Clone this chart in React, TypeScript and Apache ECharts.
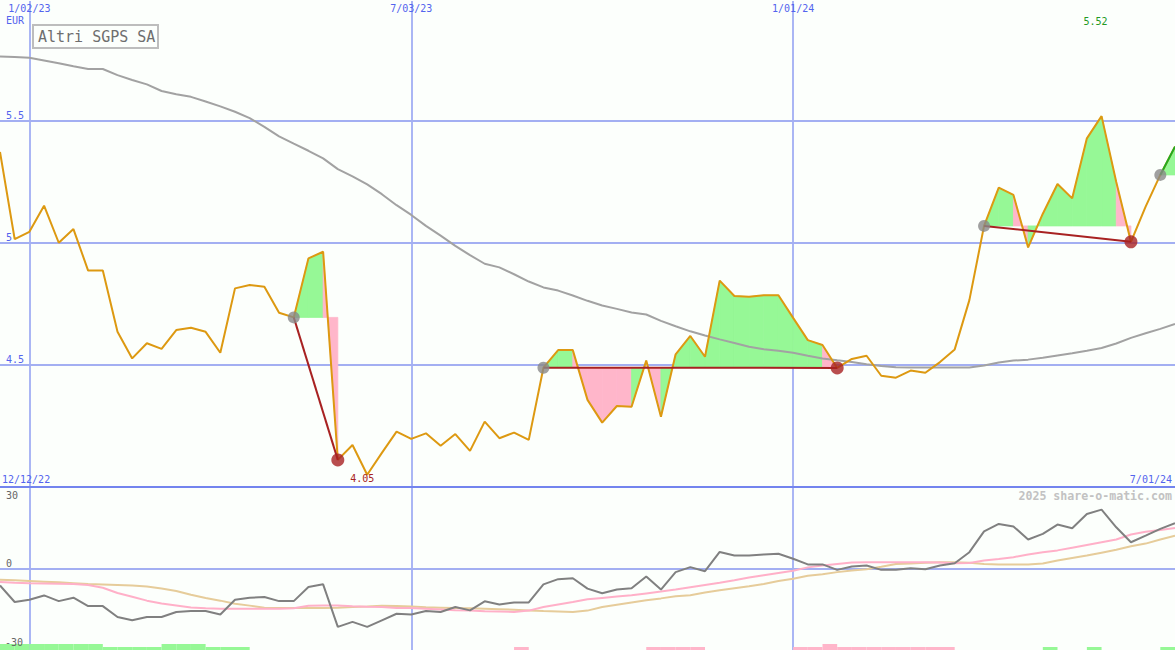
import React, { useEffect, useRef } from 'react';
import * as echarts from 'echarts';

// ---------- data ----------
const TITLE = 'Altri SGPS SA';
const CURRENCY = 'EUR';
const WATERMARK = '2025 share-o-matic.com';
const RANGE_START = '12/12/22';
const RANGE_END = '7/01/24';
const DATE_GRID = ['1/02/23', '7/03/23', '1/01/24'];
const PRICE_TICKS = [4.5, 5, 5.5];
const OSC_TICKS = [30, 0];
const OSC_LOW_TICK = '-30';

// weekly closes (EUR)
const price = [
  5.373, 5.016, 5.046, 5.153, 5.001, 5.057, 4.887, 4.887, 4.636, 4.527,
  4.589, 4.566, 4.643, 4.653, 4.636, 4.550, 4.814, 4.828, 4.821, 4.714,
  4.695, 4.937, 4.964, 4.111, 4.172, 4.050, 4.140, 4.227, 4.197, 4.220,
  4.169, 4.217, 4.148, 4.268, 4.200, 4.223, 4.193, 4.489, 4.561, 4.561,
  4.357, 4.264, 4.332, 4.329, 4.518, 4.288, 4.544, 4.619, 4.534, 4.846,
  4.783, 4.780, 4.786, 4.786, 4.693, 4.602, 4.582, 4.488, 4.525, 4.538,
  4.456, 4.448, 4.477, 4.468, 4.512, 4.564, 4.766, 5.070, 5.227, 5.197,
  4.982, 5.120, 5.242, 5.183, 5.429, 5.520, 5.250, 5.005, 5.149, 5.279,
  5.395,
];

// long moving average
const movingAvg = [
  5.764, 5.762, 5.759, 5.748, 5.737, 5.724, 5.713, 5.713, 5.688, 5.668,
  5.650, 5.623, 5.610, 5.599, 5.580, 5.560, 5.538, 5.512, 5.476, 5.437,
  5.407, 5.378, 5.347, 5.303, 5.273, 5.240, 5.200, 5.155, 5.115, 5.070,
  5.030, 4.988, 4.950, 4.915, 4.900, 4.872, 4.842, 4.818, 4.805, 4.785,
  4.763, 4.744, 4.730, 4.715, 4.707, 4.681, 4.659, 4.638, 4.621, 4.605,
  4.590, 4.575, 4.565, 4.558, 4.550, 4.538, 4.527, 4.519, 4.512, 4.503,
  4.496, 4.491, 4.490, 4.490, 4.490, 4.490, 4.490, 4.498, 4.510, 4.518,
  4.522, 4.530, 4.539, 4.548, 4.558, 4.570, 4.588, 4.611, 4.630, 4.648,
  4.668,
];

// oscillator panel
const momentum = [
  -7.5, -14.8, -13.8, -11.9, -14.4, -12.9, -16.6, -16.6, -21.4, -22.9,
  -21.4, -21.4, -19.2, -18.8, -18.8, -20.3, -13.8, -12.9, -12.6, -14.4,
  -14.4, -8.2, -7.0, -25.8, -23.6, -25.8, -22.9, -20.0, -20.3, -18.8,
  -19.2, -17.0, -18.5, -14.5, -15.9, -15.0, -15.0, -7.0, -4.7, -4.3,
  -8.9, -10.9, -9.3, -8.7, -3.5, -9.3, -1.6, 0.6, -1.2, 7.3,
  5.7, 5.7, 6.2, 6.5, 4.3, 1.8, 1.8, -0.6, 0.9, 1.3,
  -0.6, -0.6, 0.1, -0.3, 1.3, 2.3, 7.2, 16.4, 19.7, 18.6,
  12.8, 15.3, 19.4, 17.8, 24.1, 26.0, 18.2, 11.6, 14.5, 17.5,
  20.0,
];
const momentumFast = [
  -6.0, -6.3, -6.5, -6.6, -6.7, -6.9, -7.3, -8.5, -10.8, -12.5,
  -14.2, -15.5, -16.3, -17.2, -17.6, -17.8, -17.8, -17.8, -17.8, -17.8,
  -17.6, -16.5, -16.3, -16.3, -16.7, -16.9, -17.0, -17.4, -17.5, -17.8,
  -18.1, -18.4, -18.6, -18.9, -19.0, -19.2, -18.6, -17.0, -15.9, -14.8,
  -13.6, -13.0, -12.4, -11.8, -11.0, -10.2, -9.3, -8.3, -7.3, -6.3,
  -5.2, -4.0, -3.0, -2.0, -1.0, 0.5, 1.3, 2.0, 2.6, 2.8,
  2.8, 2.8, 2.8, 2.8, 2.6, 2.3, 2.4, 3.5, 4.2, 5.0,
  6.2, 7.2, 8.0, 9.2, 10.4, 11.6, 12.8, 15.0, 16.2, 17.0,
  17.9,
];
const momentumSlow = [
  -5.0, -5.2, -5.5, -5.8, -6.1, -6.5, -6.9, -7.1, -7.3, -7.5,
  -8.0, -8.8, -9.9, -11.6, -13.0, -14.2, -15.6, -16.4, -17.3, -17.5,
  -17.5, -17.5, -17.5, -17.3, -17.0, -16.8, -16.5, -16.6, -16.8, -17.1,
  -17.3, -17.5, -17.6, -17.8, -18.0, -18.2, -18.5, -18.8, -19.0, -19.2,
  -18.6, -17.0, -16.0, -15.0, -14.0, -13.2, -12.3, -11.8, -10.6, -9.6,
  -8.7, -7.8, -6.8, -5.5, -4.5, -3.2, -2.5, -1.6, -0.9, -0.3,
  0.8, 2.0, 2.2, 2.5, 2.8, 2.8, 2.5, 2.0, 1.8, 1.8,
  1.8, 2.2, 3.5, 4.6, 5.7, 7.0, 8.3, 9.8, 11.0, 12.8,
  14.5,
];

// trend segments (week indices)
const trendStart = [20, 37, 67, 79];
const trendEnd = [23, 57, 77, 80];

// weekly signal strip: + buy strength, - sell strength
const signal = [
  2, 2, 2, 2, 2, 2, 2, 1, 1, 1,
  1, 2, 2, 2, 1, 1, 1, 0, 0, 0,
  0, 0, 0, 0, 0, 0, 0, 0, 0, 0,
  0, 0, 0, 0, 0, -1, 0, 0, 0, 0,
  0, 0, 0, 0, -1, -1, -1, -1, 0, 0,
  0, 0, 0, 0, -1, -1, -2, -1, -1, -1,
  -1, -1, -1, -1, -1, 0, 0, 0, 0, 0,
  0, 1, 0, 0, 1, 0, 0, 0, 0, 1,
];

// week labels (Mondays)
const weekLabels = price.map((_, i) => {
  const d = new Date(Date.UTC(2022, 11, 19 + 7 * i));
  return `${d.getUTCMonth() + 1}/${String(d.getUTCDate()).padStart(2, '0')}/${String(d.getUTCFullYear()).slice(2)}`;
});

// ---------- styles ----------
const BG = '#fcfffc';
const GRID_BLUE = '#a3aff2';
const VGRID_BLUE = '#8f9ef2';
const AXIS_BLUE = '#7384ee';
const LABEL_BLUE = '#5364ee';
const GREEN_FILL = '#96f896';
const PINK_FILL = '#ffb6ca';
const MONO = '"DejaVu Sans Mono", monospace';

export default function App() {
  const ref = useRef<HTMLDivElement>(null);

  useEffect(() => {
    if (!ref.current) return;
    const chart = echarts.init(ref.current, undefined, { renderer: 'svg' });
    const last = price.length - 1;

    const fillData: number[][] = [];
    trendStart.forEach((s, r) => {
      const e = trendEnd[r];
      const lvl = price[s];
      for (let i = s; i < e; i++) fillData.push([i, price[i], price[i + 1], lvl]);
    });

    const trendSeries = trendStart.map((s, r) => {
      const e = trendEnd[r];
      const up = price[e] > price[s];
      return {
        type: 'line',
        xAxisIndex: 0,
        yAxisIndex: 0,
        data: [[s, price[s]], [e, price[e]]],
        symbol: 'none',
        z: 6,
        silent: true,
        lineStyle: { color: up ? '#22aa22' : '#a82222', width: 2 },
      };
    });

    const startDots = trendStart.map((s) => [s, price[s]]);
    const endDots = trendEnd.filter((e) => e < last).map((e) => [e, price[e]]);

    const minV = Math.min(...price);
    const maxV = Math.max(...price);
    const minIdx = price.indexOf(minV);
    const maxIdx = price.indexOf(maxV);

    const gridFn = (_i: number, v: string) => DATE_GRID.includes(v);

    const option: any = {
      animation: false,
      backgroundColor: BG,
      grid: [
        { left: 0, right: 0, top: -1, height: 488, outerBoundsMode: 'none' },
        { left: 0, right: 0, top: 487, height: 163, outerBoundsMode: 'none' },
        { left: 0, right: 0, top: 644, height: 6, outerBoundsMode: 'none' },
      ],
      xAxis: [
        {
          type: 'value', gridIndex: 0, min: 0, max: last,
          axisLine: { show: true, onZero: false, lineStyle: { color: AXIS_BLUE, width: 2 } },
          axisTick: { show: false }, axisLabel: { show: false }, splitLine: { show: false }, z: 10,
        },
        {
          type: 'category', gridIndex: 0, position: 'top', data: weekLabels, boundaryGap: false,
          axisLine: { show: false }, axisTick: { show: false },
          axisLabel: { inside: true, interval: gridFn, color: LABEL_BLUE, fontSize: 10, fontFamily: MONO, margin: 4 },
          splitLine: { show: true, interval: gridFn, lineStyle: { color: VGRID_BLUE, width: 1.5 } },
        },
        {
          type: 'value', gridIndex: 1, min: 0, max: last,
          axisLine: { show: true, onZero: true, lineStyle: { color: GRID_BLUE, width: 2 } },
          axisTick: { show: false }, axisLabel: { show: false }, splitLine: { show: false },
        },
        {
          type: 'category', gridIndex: 1, data: weekLabels, boundaryGap: false,
          axisLine: { show: false }, axisTick: { show: false }, axisLabel: { show: false },
          splitLine: { show: true, interval: gridFn, lineStyle: { color: VGRID_BLUE, width: 1.5 } },
        },
        {
          type: 'category', gridIndex: 2, data: signal.map((_, i) => weekLabels[i]), boundaryGap: true,
          axisLine: { show: false }, axisTick: { show: false }, axisLabel: { show: false }, splitLine: { show: false },
        },
      ],
      yAxis: [
        {
          type: 'value', gridIndex: 0, min: 4, max: 6, interval: 0.5,
          axisLine: { show: false }, axisTick: { show: false },
          axisLabel: {
            inside: true, margin: 6, verticalAlign: 'bottom', color: LABEL_BLUE, fontSize: 10, fontFamily: MONO,
            padding: [0, 0, 1, 0],
            formatter: (v: number) => (PRICE_TICKS.includes(v) ? String(v) : ''),
          },
          splitLine: { show: false },
        },
        {
          type: 'value', gridIndex: 1, min: -36, max: 36, interval: 6,
          axisLine: { show: false }, axisTick: { show: false },
          axisLabel: {
            inside: true, margin: 6, verticalAlign: 'bottom', color: '#666666', fontSize: 10, fontFamily: MONO,
            formatter: (v: number) => (OSC_TICKS.includes(v) ? String(v) : ''),
          },
          splitLine: { show: false },
        },
        {
          type: 'value', gridIndex: 2, min: 0, max: 2,
          axisLine: { show: false }, axisTick: { show: false }, axisLabel: { show: false }, splitLine: { show: false },
        },
      ],
      graphic: [
        {
          type: 'rect', shape: { x: 0, y: 0, width: 1175, height: 1 },
          style: { fill: BG }, z: 50, silent: true,
        },
        {
          type: 'rect', shape: { x: 33, y: 25, width: 125, height: 23 },
          style: { fill: BG, stroke: '#bdbdbd', lineWidth: 2 }, z: 20,
        },
        {
          type: 'text', x: 38, y: 37, z: 21,
          style: { text: TITLE, fill: '#6e6e6e', font: `15px ${MONO}`, verticalAlign: 'middle' },
        },
        {
          type: 'text', x: 6, y: 20, z: 21,
          style: { text: CURRENCY, fill: LABEL_BLUE, font: `10px ${MONO}`, verticalAlign: 'middle' },
        },
        {
          type: 'text', x: 2, y: 479, z: 21,
          style: { text: RANGE_START, fill: LABEL_BLUE, font: `10px ${MONO}`, verticalAlign: 'middle' },
        },
        {
          type: 'text', x: 1172, y: 479, z: 21,
          style: { text: RANGE_END, fill: LABEL_BLUE, font: `10px ${MONO}`, verticalAlign: 'middle', align: 'right' },
        },
        {
          type: 'text', x: 1172, y: 496, z: 21,
          style: { text: WATERMARK, fill: '#c2c2c2', font: `bold 11.6px ${MONO}`, verticalAlign: 'middle', align: 'right' },
        },
        {
          type: 'text', x: 5, y: 642, z: 21,
          style: { text: OSC_LOW_TICK, fill: '#666666', font: `10px ${MONO}`, verticalAlign: 'middle' },
        },
      ],
      series: [
        {
          type: 'custom', xAxisIndex: 0, yAxisIndex: 0, z: 2, silent: true,
          data: fillData,
          encode: { x: 0, y: [1, 2, 3] },
          renderItem: (_p: any, api: any) => {
            const i = api.value(0);
            const a = api.value(1);
            const b = api.value(2);
            const lvl = api.value(3);
            const pts = [api.coord([i, a]), api.coord([i + 1, b]), api.coord([i + 1, lvl]), api.coord([i, lvl])];
            const col = b > lvl ? GREEN_FILL : PINK_FILL;
            return {
              type: 'polygon',
              shape: { points: pts },
              style: { fill: col, stroke: col, lineWidth: 0.8 },
            };
          },
        },
        {
          type: 'line', xAxisIndex: 0, yAxisIndex: 0, z: 3, silent: true, symbol: 'none',
          data: movingAvg.map((v, i) => [i, v]),
          lineStyle: { color: '#a2a2a2', width: 2 },
          markLine: {
            silent: true, symbol: 'none', label: { show: false }, z: 1,
            lineStyle: { color: GRID_BLUE, width: 2, type: 'solid' },
            data: PRICE_TICKS.map((t) => ({ yAxis: t })),
          },
        },
        {
          type: 'line', xAxisIndex: 0, yAxisIndex: 0, z: 4, silent: true, symbol: 'none',
          data: price.map((v, i) => [i, v]),
          lineStyle: { color: '#dd9911', width: 2 },
          markPoint: {
            symbol: 'circle', symbolSize: 0, silent: true,
            label: { show: true, position: 'inside', fontSize: 10, fontFamily: MONO, formatter: '{c}' },
            data: [
              { coord: [minIdx, minV], value: minV.toFixed(2), label: { color: '#a82222', offset: [-5, 4] } },
              { coord: [maxIdx, maxV], value: maxV.toFixed(2), label: { color: '#229922', offset: [-6, -95] } },
            ],
          },
        },
        ...trendSeries,
        {
          type: 'scatter', xAxisIndex: 0, yAxisIndex: 0, z: 7, silent: true,
          data: startDots, symbolSize: 12, itemStyle: { color: '#888888' },
        },
        {
          type: 'scatter', xAxisIndex: 0, yAxisIndex: 0, z: 7, silent: true,
          data: endDots, symbolSize: 13, itemStyle: { color: '#a82222' },
        },
        {
          type: 'line', xAxisIndex: 2, yAxisIndex: 1, z: 3, silent: true, symbol: 'none',
          data: momentumSlow.map((v, i) => [i, v]),
          lineStyle: { color: '#e6cc9a', width: 2 },
        },
        {
          type: 'line', xAxisIndex: 2, yAxisIndex: 1, z: 3, silent: true, symbol: 'none',
          data: momentumFast.map((v, i) => [i, v]),
          lineStyle: { color: '#ffb0c8', width: 2 },
        },
        {
          type: 'line', xAxisIndex: 2, yAxisIndex: 1, z: 4, silent: true, symbol: 'none',
          data: momentum.map((v, i) => [i, v]),
          lineStyle: { color: '#808080', width: 2 },
        },
        {
          type: 'bar', xAxisIndex: 4, yAxisIndex: 2, z: 5, silent: true, barWidth: '100%',
          data: signal.map((s) => ({
            value: Math.abs(s),
            itemStyle: { color: s > 0 ? GREEN_FILL : PINK_FILL },
          })),
        },
      ],
    };

    chart.setOption(option);
    return () => chart.dispose();
  }, []);

  return (
    <div
      ref={ref}
      style={{ position: 'fixed', left: 0, top: 0, width: 1175, height: 650 }}
    />
  );
}
